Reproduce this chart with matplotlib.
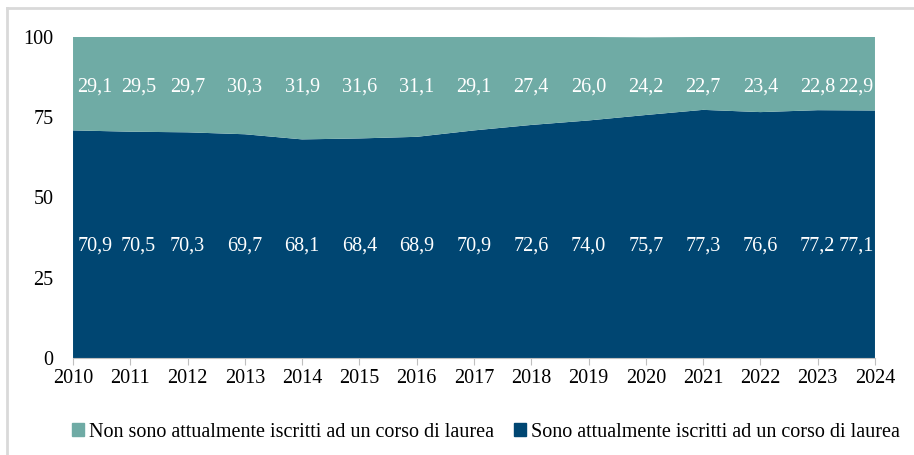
import matplotlib
matplotlib.use("Agg")
import matplotlib.pyplot as plt
import matplotlib.patches as mpatches
from matplotlib.lines import Line2D

anni = list(range(2010, 2025))
iscritti = [70.9, 70.5, 70.3, 69.7, 68.1, 68.4, 68.9, 70.9, 72.6, 74.0, 75.7, 77.3, 76.6, 77.2, 77.1]
non_iscritti = [29.1, 29.5, 29.7, 30.3, 31.9, 31.6, 31.1, 29.1, 27.4, 26.0, 24.2, 22.7, 23.4, 22.8, 22.9]
yticks = [0, 25, 50, 75, 100]

TEAL = "#6FABA5"
NAVY = "#004672"
plt.rcParams["font.family"] = ["Liberation Serif", "DejaVu Serif"]
FS = 14.5


def fmt(v):
    return f"{v:.1f}".replace(".", ",")


fig = plt.figure(figsize=(9.14, 4.55), dpi=100)
ax = fig.add_axes([0.0799, 0.2132, 0.8774, 0.7055])

ax.stackplot(anni, iscritti, non_iscritti, colors=[NAVY, TEAL], linewidth=0)

# etichette dei valori
for i, (a, v1, v2) in enumerate(zip(anni, iscritti, non_iscritti)):
    if i == 0:
        ha, dx = "left", 0.08
    elif i == len(anni) - 1:
        ha, dx = "right", -0.02
    else:
        ha, dx = "center", 0.0
    if i == 1:
        dx = 0.14
    ax.text(a + dx, 35, fmt(v1), color="white", ha=ha, va="center", fontsize=FS)
    ax.text(a + dx, 84.5, fmt(v2), color="white", ha=ha, va="center", fontsize=FS)

ax.set_xlim(anni[0], anni[-1])
ax.set_ylim(0, 100)
ax.set_xticks(anni)
ax.set_yticks(yticks)
ax.tick_params(axis="x", length=5, color="#bfbfbf", labelsize=FS, pad=3)
ax.tick_params(axis="y", length=0, labelsize=FS, pad=14)
for s in ["top", "right", "left"]:
    ax.spines[s].set_visible(False)
ax.spines["bottom"].set_color("#bfbfbf")

handles = [
    mpatches.Patch(color=TEAL, label="Non sono attualmente iscritti ad un corso di laurea"),
    mpatches.Patch(color=NAVY, label="Sono attualmente iscritti ad un corso di laurea"),
]
fig.legend(handles=handles, loc="center", bbox_to_anchor=(0.532, 0.05), ncol=2,
           frameon=False, fontsize=FS, handlelength=0.6, handleheight=0.6,
           handletextpad=0.25, columnspacing=1.0)

# cornice grigia
fig.add_artist(Line2D([7 / 914, 7 / 914], [0, 1 - 8 / 455], transform=fig.transFigure,
                      color="#d9d9d9", linewidth=2))
fig.add_artist(Line2D([7 / 914, 1], [1 - 8 / 455, 1 - 8 / 455], transform=fig.transFigure,
                      color="#d9d9d9", linewidth=2))

fig.savefig("out.png", dpi=100)
